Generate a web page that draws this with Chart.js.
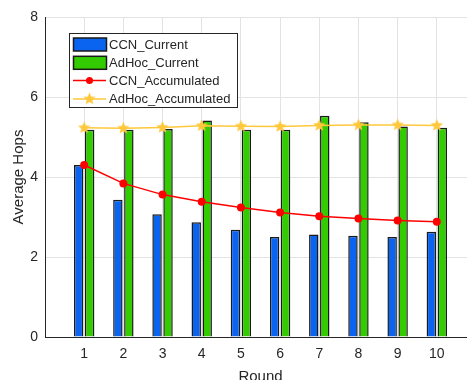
<!DOCTYPE html>
<html>
<head>
<meta charset="utf-8">
<script src="https://cdn.jsdelivr.net/npm/chart.js@4"></script>
<style>
  html, body { margin: 0; padding: 0; background: #fff; overflow: hidden; }
  #wrap { width: 485px; height: 392px; }
</style>
</head>
<body>
<div id="wrap"><canvas id="hops_Chart" width="485" height="392"></canvas></div>
<script>
// 데이터
const rounds = [1, 2, 3, 4, 5, 6, 7, 8, 9, 10];
const ccnCurrent = [4.3, 3.43, 3.07, 2.87, 2.68, 2.5, 2.56, 2.53, 2.5, 2.63];
const adhocCurrent = [5.18, 5.18, 5.2, 5.41, 5.18, 5.18, 5.53, 5.37, 5.26, 5.23];
const ccnAccumulated = [4.3, 3.84, 3.56, 3.38, 3.24, 3.11, 3.02, 2.96, 2.91, 2.88];
const adhocAccumulated = [5.23, 5.22, 5.24, 5.28, 5.27, 5.26, 5.29, 5.3, 5.3, 5.29];
const yTicks = [0, 2, 4, 6, 8];

const blue = 'rgb(10, 100, 240)';
const green = 'rgb(51, 204, 0)';
const red = 'rgb(255, 0, 0)';
const yellow = 'rgb(255, 200, 60)';
const edge = '#1a1a1a';

// filled star marker
function makeStar(r, color) {
    const c = document.createElement('canvas');
    c.width = c.height = r * 2 + 2;
    const g = c.getContext('2d');
    g.beginPath();
    for (let i = 0; i < 10; i++) {
        const rad = i % 2 === 0 ? r : r * 0.45;
        const a = -Math.PI / 2 + i * Math.PI / 5;
        const px = r + 1 + rad * Math.cos(a);
        const py = r + 1 + rad * Math.sin(a);
        if (i === 0) g.moveTo(px, py); else g.lineTo(px, py);
    }
    g.closePath();
    g.fillStyle = color;
    g.fill();
    return c;
}
const starImg = makeStar(6.5, yellow);

const toPoints = (arr) => arr.map((v, i) => ({ x: rounds[i], y: v }));

// legend drawn inside the axes, MATLAB style
const boxLegend = {
    id: 'boxLegend',
    afterDatasetsDraw(chart) {
        const ctx = chart.ctx;
        const x0 = 69, y0 = 33, w = 168, h = 74;
        ctx.save();
        ctx.fillStyle = '#fff';
        ctx.fillRect(x0, y0, w, h);
        ctx.strokeStyle = '#262626';
        ctx.lineWidth = 1;
        ctx.strokeRect(x0 + 0.5, y0 + 0.5, w, h);
        const rows = [
            { label: 'CCN_Current', kind: 'bar', color: blue },
            { label: 'AdHoc_Current', kind: 'bar', color: green },
            { label: 'CCN_Accumulated', kind: 'line', color: red },
            { label: 'AdHoc_Accumulated', kind: 'star', color: yellow },
        ];
        ctx.font = '13px "Liberation Sans", Arial, sans-serif';
        ctx.textBaseline = 'middle';
        rows.forEach((r, i) => {
            const cy = y0 + 11 + i * 18.3;
            if (r.kind === 'bar') {
                ctx.fillStyle = r.color;
                ctx.fillRect(73, cy - 6, 33, 13);
                ctx.strokeStyle = edge;
                ctx.lineWidth = 1.5;
                ctx.strokeRect(73.5, cy - 6, 33, 13);
            } else {
                ctx.strokeStyle = r.color;
                ctx.lineWidth = 1.5;
                ctx.beginPath();
                ctx.moveTo(73, cy);
                ctx.lineTo(106, cy);
                ctx.stroke();
                if (r.kind === 'line') {
                    ctx.fillStyle = r.color;
                    ctx.beginPath();
                    ctx.arc(89.5, cy, 3.5, 0, Math.PI * 2);
                    ctx.fill();
                } else {
                    ctx.drawImage(starImg, 89.5 - starImg.width / 2, cy - starImg.height / 2);
                }
            }
            ctx.fillStyle = '#262626';
            ctx.fillText(r.label, 109, cy + 1);
        });
        ctx.restore();
    }
};

const ctxHops = document.getElementById('hops_Chart').getContext('2d');
new Chart(ctxHops, {
    type: 'bar',
    data: {
        datasets: [
            {
                type: 'line',
                label: 'CCN_Accumulated',
                data: toPoints(ccnAccumulated),
                borderColor: red,
                backgroundColor: red,
                borderWidth: 1.5,
                pointStyle: 'circle',
                pointRadius: 4,
                pointBorderWidth: 0,
                tension: 0,
                order: 0,
            },
            {
                type: 'line',
                label: 'AdHoc_Accumulated',
                data: toPoints(adhocAccumulated),
                borderColor: yellow,
                backgroundColor: yellow,
                borderWidth: 1.5,
                pointStyle: starImg,
                tension: 0,
                order: 0,
            },
            {
                label: 'CCN_Current',
                data: toPoints(ccnCurrent),
                backgroundColor: blue,
                borderColor: edge,
                borderWidth: 1.5,
                order: 1,
            },
            {
                label: 'AdHoc_Current',
                data: toPoints(adhocCurrent),
                backgroundColor: green,
                borderColor: edge,
                borderWidth: 1.5,
                order: 1,
            },
        ]
    },
    options: {
        responsive: false,
        animation: false,
        categoryPercentage: 0.56,
        barPercentage: 0.86,
        layout: {
            padding: { top: 17, right: 8, left: 0, bottom: 0 }
        },
        plugins: {
            legend: { display: false },
            tooltip: { enabled: false },
        },
        scales: {
            x: {
                type: 'linear',
                offset: false,
                min: 0,
                max: 11,
                afterFit: (s) => { s.height = 55; },
                ticks: {
                    stepSize: 1,
                    color: '#262626',
                    padding: 9,
                    font: { size: 14, family: '"Liberation Sans", Arial, sans-serif' },
                    callback: (v) => (v >= 1 && v <= 10 ? String(v) : ''),
                },
                grid: { color: '#e3e3e3', drawTicks: false, offset: false },
                border: { color: '#262626', width: 1 },
                title: {
                    display: true,
                    text: 'Round',
                    color: '#262626',
                    font: { size: 15, family: '"Liberation Sans", Arial, sans-serif' },
                    padding: { top: 0, bottom: 6 },
                },
            },
            y: {
                min: 0,
                max: 8,
                afterFit: (s) => { s.width = 45; },
                afterBuildTicks: (s) => { s.ticks = yTicks.map(v => ({ value: v })); },
                ticks: {
                    color: '#262626',
                    padding: 7,
                    font: { size: 14, family: '"Liberation Sans", Arial, sans-serif' },
                },
                grid: { color: '#e3e3e3', drawTicks: false },
                border: { color: '#262626', width: 1 },
                title: {
                    display: true,
                    text: 'Average Hops',
                    color: '#262626',
                    font: { size: 15, family: '"Liberation Sans", Arial, sans-serif' },
                    padding: { top: 10, bottom: 0 },
                },
            }
        }
    },
    plugins: [boxLegend]
});
</script>
</body>
</html>
